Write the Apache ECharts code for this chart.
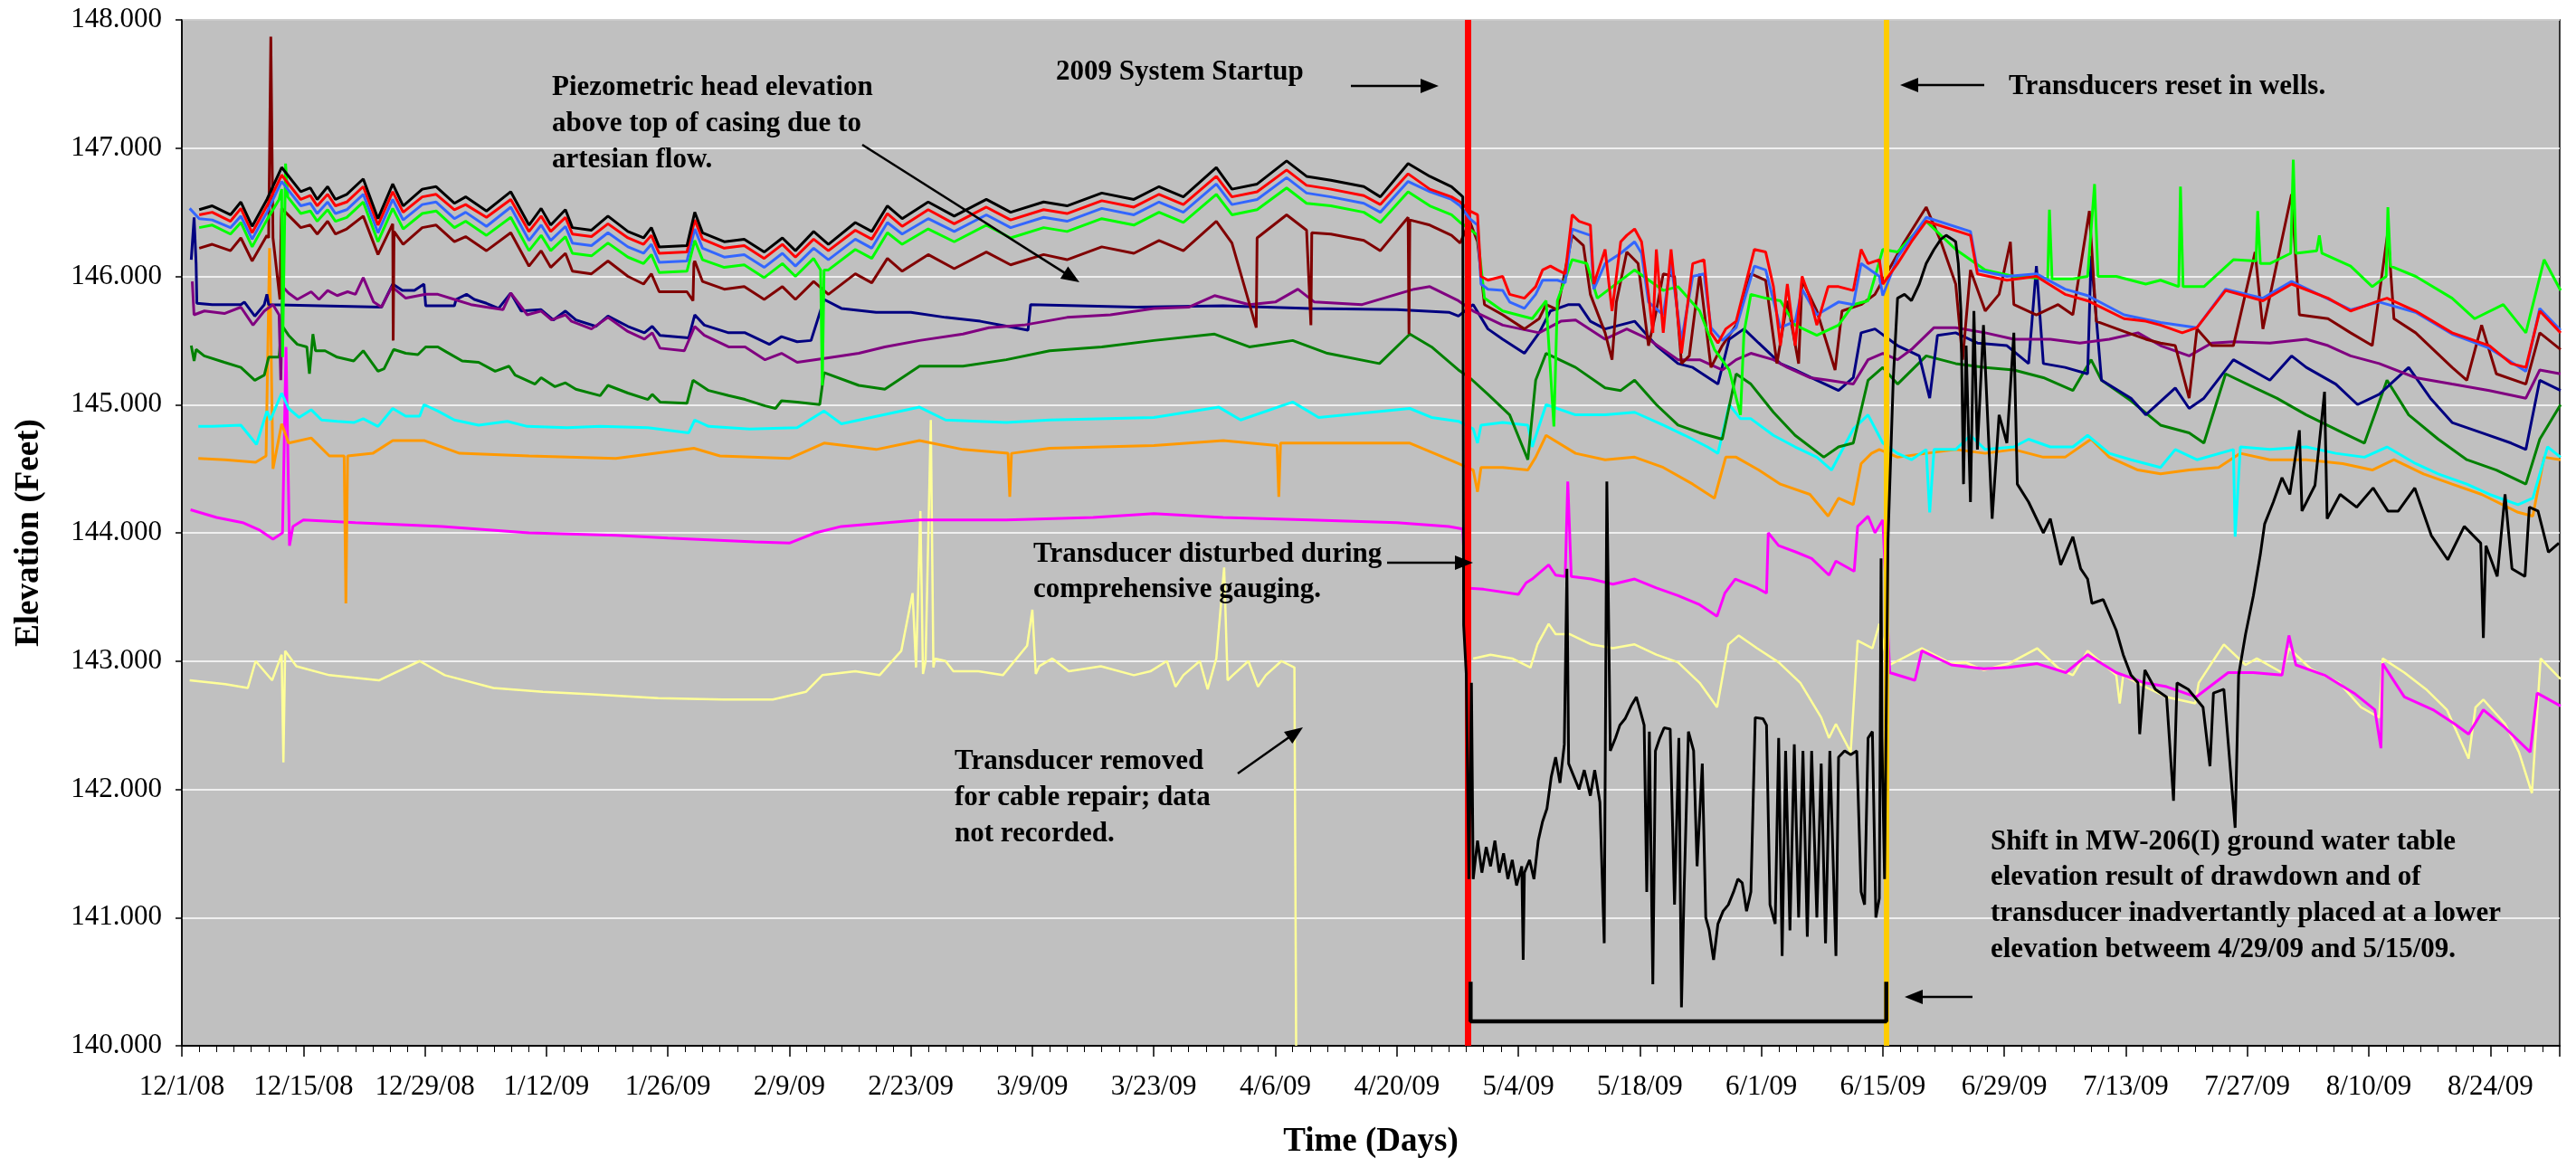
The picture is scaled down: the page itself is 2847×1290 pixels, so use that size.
<!DOCTYPE html>
<html><head><meta charset="utf-8">
<script src="https://cdn.jsdelivr.net/npm/echarts@6/dist/echarts.min.js"></script>
<style>html,body{margin:0;padding:0;background:#fff}#c{width:2847px;height:1290px}</style>
</head><body><div id="c"></div>
<script>
// ---------- DATA (x = days since 12/1/08, y = elevation in feet) ----------
const startupDay = 148.2;   // 2009 System Startup (4/28/09)
const resetDay = 196.4;     // Transducers reset in wells (6/15/09)
const yTicks = [140,141,142,143,144,145,146,147,148];

// shared day grid for the upper bundle before startup
const bundleDays = [2,3.5,5.6,6.8,8.1,9.8,11.5,13.7,14.8,15.6,
 16.8,17.7,19,20.9,22.6,24.3,25.5,27.7,29.3,31.4,
 32.7,35.1,37.9,40,41.4,42.5,44.2,45,47.2,49.1,
 51.4,53.2,54.1,55,58.2,59.1,60,62.5,64.8,67.1,
 69.2,70.7,72.8,74.5,77.6,79.5,81.3,83,86,89,
 92.7,95.5,99.3,102,106,109.7,112.6,115.4,119.2,121,
 123.9,127.3,129.6,132.4,136.2,138.1,141.3,143.8,146.3,147.3];

const blackPre = [146.52,146.55,146.48,146.58,146.39,146.60,146.85,146.66,146.69,146.60,
 146.70,146.60,146.64,146.76,146.45,146.72,146.55,146.68,146.70,146.57,
 146.62,146.51,146.66,146.40,146.53,146.40,146.52,146.38,146.36,146.47,
 146.35,146.30,146.38,146.23,146.24,146.50,146.34,146.27,146.29,146.19,
 146.30,146.20,146.35,146.25,146.42,146.35,146.55,146.45,146.58,146.47,
 146.60,146.50,146.58,146.55,146.65,146.60,146.70,146.62,146.85,146.68,
 146.72,146.90,146.78,146.75,146.70,146.62,146.88,146.78,146.70,146.64];
const redPre = [146.48,146.50,146.43,146.53,146.34,146.55,146.79,146.60,146.63,146.55,
 146.64,146.55,146.58,146.70,146.40,146.66,146.50,146.62,146.64,146.52,
 146.56,146.46,146.60,146.35,146.47,146.35,146.46,146.33,146.31,146.41,
 146.30,146.25,146.32,146.18,146.19,146.44,146.29,146.22,146.24,146.14,
 146.25,146.15,146.29,146.20,146.36,146.29,146.49,146.39,146.52,146.41,
 146.54,146.44,146.52,146.49,146.59,146.54,146.64,146.56,146.78,146.62,
 146.66,146.83,146.71,146.68,146.63,146.56,146.80,146.68,146.62,146.58];
const bluePre = [146.45,146.44,146.38,146.47,146.29,146.50,146.74,146.55,146.57,146.49,
 146.58,146.49,146.52,146.64,146.34,146.60,146.44,146.56,146.58,146.45,
 146.50,146.39,146.54,146.28,146.40,146.28,146.39,146.26,146.24,146.34,
 146.23,146.18,146.25,146.11,146.12,146.37,146.22,146.15,146.17,146.07,
 146.18,146.08,146.22,146.13,146.29,146.22,146.42,146.33,146.45,146.35,
 146.48,146.38,146.46,146.43,146.53,146.48,146.58,146.50,146.72,146.56,
 146.60,146.77,146.65,146.62,146.57,146.50,146.74,146.66,146.60,146.55];
const limePre = [146.38,146.40,146.33,146.42,146.23,146.44,146.68,146.49,146.51,146.43,
 146.52,146.43,146.46,146.58,146.27,146.53,146.37,146.49,146.51,146.38,
 146.43,146.32,146.46,146.20,146.32,146.20,146.31,146.18,146.16,146.26,
 146.15,146.10,146.17,146.03,146.04,146.28,146.13,146.07,146.09,145.99,
 146.10,146.00,146.14,146.05,146.21,146.14,146.34,146.25,146.37,146.27,
 146.40,146.30,146.38,146.35,146.45,146.40,146.50,146.42,146.64,146.48,
 146.52,146.69,146.57,146.55,146.50,146.42,146.66,146.55,146.48,146.42];
const maroonPre = [146.22,146.25,146.20,146.30,146.12,146.32,146.53,146.38,146.40,146.33,
 146.43,146.33,146.37,146.47,146.17,146.41,146.25,146.38,146.40,146.27,
 146.31,146.20,146.34,146.08,146.20,146.07,146.18,146.04,146.02,146.12,
 146.00,145.94,146.02,145.88,145.88,146.12,145.96,145.90,145.92,145.82,
 145.92,145.82,145.96,145.86,146.02,145.95,146.14,146.04,146.17,146.06,
 146.19,146.09,146.17,146.13,146.23,146.18,146.28,146.20,146.43,146.26,
 146.30,146.48,146.36,146.33,146.28,146.20,146.46,146.40,146.32,146.26];

const blueStart = [[0.9,146.53]];
const limeSpikes = [[11.2,146.6],[11.6,145.37],[11.95,146.88],[12.2,146.62],[73.6,146.05],[73.8,145.15],[74.0,146.05]];
const maroonSpikes = [[10.0,146.3],[10.25,147.87],[10.5,146.3],[11.0,146.0],[11.3,145.82],[11.45,146.45],[24.35,145.5],[24.45,146.35],
 [58.9,145.81],[59.0,146.1],[123.8,145.6],[123.95,146.3],[130.1,145.62],[130.2,146.34],[141.4,145.55],[141.5,146.44]];

const blackPost = [[147.6,146.62],[147.7,143.28],[148.0,142.9],[148.3,141.3],[148.6,142.83],[148.8,141.3],
 [149.3,141.6],[149.8,141.35],[150.3,141.55],[150.8,141.4],[151.3,141.6],[151.8,141.35],[152.3,141.5],[152.8,141.3],[153.3,141.45],
 [153.8,141.25],[154.4,141.4],[154.56,140.67],[154.7,141.35],[155.3,141.45],[155.8,141.3],[156.3,141.6],[156.8,141.75],[157.3,141.85],
 [157.8,142.1],[158.3,142.25],[158.8,142.05],[159.3,142.35],[159.6,143.72],[159.8,142.2],[160.4,142.1],[161.0,142.0],[161.6,142.15],
 [162.3,141.95],[162.8,142.15],[163.4,141.9],[163.9,140.8],[164.2,144.4],[164.6,142.3],[165.2,142.4],[165.7,142.5],[166.3,142.55],
 [167.0,142.65],[167.6,142.72],[168.1,142.6],[168.5,142.5],[168.8,141.2],[169.1,142.45],[169.5,140.48],[169.8,142.3],[170.3,142.4],
 [170.8,142.48],[171.5,142.47],[172.0,141.1],[172.5,142.4],[172.8,140.3],[173.1,141.2],[173.6,142.45],[174.2,142.3],[174.6,141.4],
 [175.2,142.2],[175.6,141.0],[176.0,140.9],[176.5,140.67],[177.0,140.95],[177.6,141.05],[178.2,141.1],[178.8,141.2],[179.3,141.3],
 [179.8,141.27],[180.3,141.05],[180.8,141.2],[181.3,142.56],[182.2,142.55],[182.6,142.5],[183.0,141.1],[183.6,140.95],[184.0,142.4],
 [184.4,140.7],[184.8,142.3],[185.3,140.9],[185.8,142.35],[186.3,141.0],[186.8,142.3],[187.3,140.85],[187.8,142.3],[188.4,141.0],
 [188.9,142.2],[189.4,140.8],[189.9,142.3],[190.6,140.7],[190.9,142.25],[191.6,142.3],[192.3,142.27],[193.0,142.3],[193.5,141.2],
 [193.9,141.1],[194.3,142.4],[194.8,142.45],[195.2,141.0],[195.6,141.15],[195.8,143.8],[195.9,142.4],[196.2,141.3],
 [196.6,143.95],[197.2,145.19],[197.7,145.83],[198.5,145.86],[199.3,145.81],[200.2,145.94],[201.0,146.10],[201.9,146.21],[202.7,146.29],
 [203.3,146.32],[204.0,146.29],[204.4,146.27],[204.7,146.1],[205.0,145.73],[205.3,144.38],[205.6,145.46],[206.1,144.24],[206.5,145.73],
 [206.9,144.65],[207.6,145.62],[208.6,144.11],[209.4,144.92],[210.3,144.70],[211.1,145.56],[211.5,144.38],[212.8,144.24],[214.5,144.0],
 [215.3,144.11],[216.5,143.75],[217.9,143.97],[218.8,143.72],[219.6,143.64],[220.1,143.45],[221.4,143.48],[222.9,143.24],[223.7,143.05],
 [224.6,142.89],[225.4,142.83],[225.6,142.43],[226.2,142.93],[227.4,142.78],[228.7,142.72],[229.5,141.91],[229.9,142.83],[231.2,142.78],
 [232.9,142.64],[233.7,142.18],[234.1,142.75],[235.3,142.78],[236.6,141.7],[237.0,142.89],[237.8,143.21],[238.7,143.51],[239.5,143.83],
 [240.0,144.07],[241.0,144.24],[242.0,144.43],[242.9,144.3],[244.0,144.8],[244.3,144.17],[245.8,144.37],[246.9,145.1],[247.2,144.11],
 [248.7,144.3],[250.6,144.2],[252.5,144.35],[254.2,144.17],[255.4,144.17],[257.3,144.35],[259.2,143.98],[261.1,143.79],[263.0,144.05],
 [264.9,143.92],[265.2,143.18],[265.5,143.9],[266.8,143.66],[267.7,144.3],[268.5,143.72],[270.0,143.66],[270.5,144.2],[271.5,144.17],
 [272.7,143.85],[273.9,143.92]];

const redPost = [[148.4,146.51],[149.3,146.48],[149.7,146.0],[150.5,145.97],[152.2,146.0],[153.0,145.86],[154.7,145.83],[156.0,145.92],
 [156.8,146.05],[157.7,146.08],[158.5,146.05],[159.4,146.02],[160.2,146.48],[161.0,146.43],[162.3,146.40],[162.7,145.94],[164.0,146.21],
 [164.8,145.73],[165.8,146.27],[166.5,146.32],[167.4,146.37],[168.2,146.27],[169.0,145.86],[169.5,145.56],[169.9,146.21],[170.7,145.56],
 [171.6,146.21],[172.8,145.40],[174.1,146.10],[175.4,146.13],[176.2,145.56],[177.0,145.48],[177.9,145.59],[179.1,145.65],[181.2,146.21],
 [182.5,146.19],[183.4,145.92],[184.2,145.46],[185.0,145.94],[185.9,145.46],[186.7,146.0],[187.6,145.83],[188.4,145.62],[189.7,145.92],
 [190.9,145.92],[192.6,145.89],[193.5,146.21],[194.3,146.10],[195.6,146.13],[196.0,145.94],
 [197.7,146.10],[199.3,146.27],[201.0,146.43],[206.1,146.32],[206.9,146.02],[210.3,145.97],[213.7,146.0],[217.0,145.86],[219.6,145.81],
 [223.8,145.67],[226.3,145.65],[228.0,145.62],[230.5,145.56],[232.2,145.6],[235.5,145.89],[239.8,145.81],[243.1,145.94],[247.3,145.83],
 [249.9,145.73],[253.2,145.81],[254.1,145.83],[257.4,145.73],[261.6,145.56],[265.9,145.46],[268.4,145.32],[270.1,145.29],[271.7,145.73],[274.1,145.56]];

const bluePost = [[148.4,146.45],[149.3,146.40],[149.7,145.94],[150.5,145.9],[152.2,145.89],[153.0,145.8],[154.7,145.75],[156.0,145.86],
 [156.8,145.97],[158.5,145.97],[159.4,145.95],[160.2,146.37],[161.0,146.35],[162.3,146.32],[162.7,145.9],[164.0,146.1],[165.8,146.18],
 [167.4,146.27],[168.2,146.18],[169.0,145.8],[170.7,145.7],[171.6,146.1],[172.8,145.5],[174.1,146.0],[175.4,146.02],[176.2,145.6],
 [177.5,145.5],[179.1,145.6],[181.2,146.08],[182.5,146.05],[184.2,145.6],[185.9,145.65],[186.7,145.9],[188.4,145.7],[190.9,145.8],
 [192.6,145.78],[193.5,146.1],[195.6,146.0],[196.0,145.85],
 [197.7,146.15],[199.3,146.3],[201.0,146.46],[206.1,146.35],[206.9,146.05],[210.3,146.0],[213.7,146.02],[217.0,145.9],[219.6,145.85],
 [223.8,145.7],[228.0,145.64],[232.2,145.6],[235.5,145.9],[239.8,145.83],[243.1,145.96],[249.9,145.74],[253.2,145.8],[257.4,145.72],
 [261.6,145.55],[265.9,145.44],[270.1,145.26],[271.7,145.75],[274.1,145.58]];

const limePost = [[148.4,146.37],[149.3,146.32],[150.1,145.83],[152.2,145.73],[155.6,145.67],[157.2,145.81],[158.1,144.83],[158.5,145.81],
 [160.2,146.13],[161.9,146.10],[163.1,145.83],[167.4,146.05],[170.7,145.89],[172.4,145.92],[174.9,145.73],[176.6,145.43],[178.3,145.27],
 [179.6,144.92],[180.0,145.56],[180.8,145.86],[182.5,145.83],[184.2,145.81],[185.9,145.62],[188.4,145.54],[190.9,145.62],[192.6,145.78],
 [194.3,145.81],[196.0,146.21],
 [197.7,146.19],[201.0,146.43],[204.4,146.21],[207.8,146.05],[211.1,146.0],[215.0,145.98],[215.2,146.52],[215.5,145.98],[217.9,145.98],
 [219.6,146.0],[220.4,146.72],[220.8,146.0],[222.9,146.0],[226.3,145.94],[228.0,145.97],[230.1,145.92],[230.3,146.7],[230.6,145.92],
 [233.0,145.92],[236.4,146.13],[239.0,146.12],[239.2,146.51],[239.5,146.1],[240.6,146.10],[243.0,146.18],[243.3,146.91],[243.6,146.18],
 [246.0,146.2],[246.3,146.32],[246.6,146.18],[249.9,146.08],[252.4,145.92],[254.0,146.0],[254.2,146.54],[254.5,146.08],[257.4,146.0],
 [261.6,145.83],[264.2,145.67],[267.5,145.78],[270.1,145.56],[272.2,146.13],[274.1,145.89]];

const maroonPost = [[148.4,146.43],[149.3,146.27],[150.1,145.78],[152.2,145.7],[154.7,145.59],[156.4,145.67],[157.2,145.78],[158.5,145.74],
 [160.2,146.32],[161.5,146.24],[162.3,145.86],[164.0,145.56],[164.8,145.35],[165.3,145.8],[166.5,146.19],[167.8,146.1],[169.0,145.46],
 [169.9,145.73],[170.7,146.02],[172.0,146.0],[172.8,145.32],[173.7,145.38],[174.9,146.02],[176.2,145.29],[177.5,145.46],[179.1,145.62],
 [180.8,146.02],[182.5,145.97],[183.8,145.32],[185.0,145.81],[186.3,145.32],[186.7,145.97],[188.4,145.73],[190.5,145.27],[191.3,145.73],
 [193.5,145.78],[195.1,145.86],
 [198.5,146.27],[201.0,146.54],[202.7,146.27],[204.4,145.94],[205.2,145.35],[206.1,146.05],[207.8,145.73],[209.4,145.86],[210.7,146.27],
 [211.1,145.78],[213.7,145.7],[216.2,145.78],[217.9,145.70],[219.8,146.51],[220.6,145.65],[223.8,145.57],[226.3,145.51],[228.0,145.48],
 [229.7,145.46],[231.3,145.05],[232.2,145.59],[233.9,145.46],[236.4,145.46],[238.9,146.19],[239.8,145.59],[243.1,146.64],[244.0,145.70],
 [247.3,145.67],[249.9,145.56],[252.4,145.46],[254.2,146.35],[254.9,145.67],[257.4,145.56],[261.6,145.29],[263.3,145.19],[265.0,145.62],
 [266.7,145.24],[270.1,145.16],[271.7,145.56],[274.1,145.43]];

const purpleData = [[1.2,145.96],[1.4,145.70],[2.6,145.73],[4.9,145.71],[6.8,145.76],[8.2,145.62],[9.5,145.73],[10.5,145.78],[11.2,145.70],
 [11.4,145.19],[11.6,145.92],[12.3,145.87],[13.3,145.82],[14.9,145.88],[15.8,145.82],[16.8,145.89],[17.9,145.85],[19.1,145.88],[20.0,145.86],
 [20.9,145.99],[22.1,145.80],[23.0,145.76],[24.2,145.92],[25.8,145.83],[28.1,145.86],[29.5,145.86],[31.4,145.82],[33.3,145.78],[35.1,145.76],
 [37.0,145.74],[37.9,145.87],[39.8,145.70],[41.4,145.73],[42.6,145.66],[44.2,145.70],[44.9,145.65],[47.2,145.59],[49.1,145.68],[51.4,145.57],
 [53.3,145.51],[54.2,145.56],[55.1,145.44],[57.9,145.42],[59.1,145.61],[60.2,145.54],[63.0,145.45],[64.9,145.45],[67.2,145.35],[69.1,145.40],
 [70.9,145.33],[74,145.36],[78,145.4],[81,145.45],[85,145.5],[90,145.55],[93,145.6],[97,145.62],[102,145.68],[107,145.7],[112,145.75],
 [116,145.76],[119,145.85],[123,145.78],[126,145.8],[128.6,145.9],[130.5,145.8],[136,145.78],[142,145.9],[143.8,145.92],[147.1,145.81],
 [148.8,145.73],[152.2,145.62],[156.4,145.56],[158.9,145.65],[160.6,145.66],[164.0,145.51],[166.5,145.59],[169.0,145.51],[172.4,145.35],
 [174.9,145.35],[177.5,145.27],[179.1,145.35],[180.8,145.40],[183.4,145.35],[185.0,145.29],[187.6,145.21],[189.7,145.19],[192.6,145.16],
 [194.3,145.35],[196.0,145.40],
 [197.7,145.35],[199.3,145.43],[201.9,145.60],[204.4,145.60],[207.8,145.56],[211.1,145.51],[215.3,145.51],[218.7,145.48],[222.1,145.51],
 [225.4,145.56],[228.0,145.46],[231.3,145.38],[233.9,145.48],[236.4,145.49],[240.6,145.48],[244.8,145.51],[247.3,145.46],[249.9,145.38],
 [253.2,145.32],[257.4,145.21],[261.6,145.16],[265.9,145.11],[270.1,145.05],[271.7,145.27],[274.1,145.24]];

const navyData = [[1.08,146.13],[1.41,146.46],[1.64,146.1],[1.73,145.79],[3.5,145.78],[6.8,145.78],[7.2,145.80],[8.4,145.69],[9.5,145.78],
 [9.8,145.86],[10.0,145.78],[23.0,145.76],[24.3,145.94],[25.4,145.89],[26.8,145.89],[27.9,145.94],[28.1,145.77],[31.4,145.77],[31.6,145.82],
 [32.8,145.86],[33.7,145.82],[35.1,145.79],[36.5,145.75],[37.9,145.87],[39.1,145.73],[41.4,145.74],[42.8,145.66],[44.2,145.73],[45.4,145.66],
 [47.7,145.61],[49.1,145.69],[51.4,145.61],[53.3,145.56],[54.2,145.61],[55.1,145.54],[58.4,145.52],[59.1,145.70],[60.2,145.62],[63.0,145.56],
 [64.9,145.56],[67.7,145.47],[69.1,145.53],[70.9,145.49],[72.5,145.5],[74,145.82],[76,145.75],[80,145.72],[84,145.72],[88,145.68],[92,145.65],
 [96,145.6],[97.5,145.58],[97.8,145.78],[110,145.76],[120,145.77],[130,145.75],[140,145.74],[146,145.72],[147.1,145.69],
 [148.8,145.78],[150.5,145.59],[152.2,145.51],[154.7,145.40],[156.4,145.56],[157.7,145.73],[159.8,145.78],[161.0,145.78],[162.3,145.65],
 [164.0,145.59],[167.4,145.65],[169.9,145.46],[172.4,145.32],[174.1,145.29],[177.0,145.16],[178.3,145.51],[180.0,145.59],[181.7,145.48],
 [184.2,145.32],[185.9,145.27],[188.4,145.19],[190.9,145.11],[192.6,145.21],[193.5,145.56],[195.1,145.59],
 [197.7,145.46],[200.2,145.38],[201.4,145.05],[202.3,145.54],[204.4,145.56],[206.9,145.48],[210.3,145.46],[212.8,145.32],[213.7,146.08],
 [214.5,145.32],[217.0,145.29],[219.6,145.24],[220.0,146.16],[221.2,145.19],[224.6,145.05],[226.3,144.92],[229.7,145.13],[231.3,144.97],
 [233.0,145.05],[236.4,145.35],[240.6,145.19],[243.1,145.38],[244.8,145.29],[248.2,145.16],[250.7,145.0],[253.2,145.08],[256.6,145.29],
 [259.1,145.05],[261.6,144.86],[265.0,144.78],[268.4,144.70],[270.1,144.65],[271.7,145.19],[274.1,145.11]];

const greenData = [[1.08,145.46],[1.41,145.34],[1.64,145.43],[2.57,145.38],[4.9,145.33],[6.8,145.29],[8.4,145.19],[9.5,145.23],[10.0,145.37],
 [11.2,145.37],[11.5,145.62],[12.3,145.54],[13.3,145.47],[14.4,145.45],[14.7,145.24],[15.1,145.55],[15.4,145.42],[16.5,145.42],[17.9,145.37],
 [19.8,145.34],[20.9,145.42],[22.6,145.26],[23.3,145.28],[24.4,145.43],[25.8,145.40],[27.2,145.39],[28.1,145.45],[29.5,145.45],[30.5,145.41],
 [32.3,145.34],[34.2,145.33],[36.1,145.26],[37.7,145.30],[38.4,145.23],[40.7,145.16],[41.4,145.21],[43.0,145.14],[44.2,145.17],[45.4,145.12],
 [48.2,145.07],[49.1,145.15],[51.4,145.09],[53.7,145.04],[54.2,145.08],[55.1,145.02],[58.2,145.01],[58.9,145.19],[60.7,145.11],[63.0,145.07],
 [64.9,145.04],[67.2,144.99],[68.4,144.97],[69.1,145.03],[70.9,145.02],[73.5,145.0],[74,145.25],[78,145.15],[81,145.12],[85,145.3],[90,145.3],
 [95,145.35],[100,145.42],[106,145.45],[112,145.5],[119,145.55],[123,145.45],[128,145.5],[132,145.4],[138,145.32],[141.5,145.55],[144,145.45],
 [147.1,145.27],[148.4,145.21],[150.5,145.08],[153.0,144.92],[155.1,144.57],[156.0,145.19],[157.2,145.40],[160.6,145.29],[164.0,145.13],
 [165.8,145.11],[167.4,145.19],[169.9,145.0],[172.4,144.84],[174.9,144.78],[177.5,144.73],[179.1,145.24],[180.8,145.16],[183.4,144.94],
 [185.9,144.76],[189.2,144.59],[190.9,144.67],[192.6,144.70],[194.3,145.19],[196.0,145.29],
 [197.7,145.16],[201.0,145.38],[204.4,145.32],[207.8,145.29],[211.1,145.27],[214.5,145.21],[217.9,145.11],[220.0,145.35],[221.2,145.19],
 [224.6,145.03],[228.0,144.84],[231.3,144.78],[233.0,144.70],[235.5,145.24],[238.9,145.13],[241.4,145.05],[244.8,144.92],[249.0,144.78],
 [251.5,144.70],[254.1,145.19],[256.6,144.92],[260.0,144.73],[263.3,144.57],[266.7,144.49],[270.1,144.38],[271.7,144.73],[274.1,145.0]];

const cyanData = [[1.9,144.83],[3.5,144.83],[6.8,144.84],[8.6,144.69],[9.8,144.95],[10.2,144.88],[11.5,145.09],[12.3,144.97],[13.5,144.9],
 [14.9,144.96],[16.1,144.88],[17.9,144.87],[19.8,144.86],[20.9,144.89],[22.6,144.83],[24.3,144.97],[25.8,144.91],[27.4,144.91],[27.9,145.0],
 [29.5,144.95],[31.4,144.88],[34.2,144.84],[37.5,144.87],[39.8,144.83],[44.4,144.82],[48.2,144.83],[53.7,144.82],[58.4,144.78],[59.1,144.88],
 [60.7,144.83],[65.4,144.81],[70.9,144.82],[74,144.95],[76,144.85],[85,144.98],[88,144.88],[95,144.86],[100,144.88],[112,144.9],[119.5,144.98],
 [122,144.88],[128,145.02],[131,144.9],[141.5,144.97],[144,144.9],[147.1,144.87],
 [148.8,144.81],[149.3,144.70],[149.7,144.84],[152.2,144.86],[155.1,144.84],[155.6,144.67],[157.2,145.0],[160.6,144.92],[164.0,144.92],
 [167.4,144.94],[170.7,144.84],[173.2,144.76],[175.8,144.67],[177.0,144.62],[178.3,145.0],[179.6,144.89],[180.8,144.89],[183.4,144.76],
 [185.9,144.67],[188.4,144.59],[190.1,144.49],[192.6,144.81],[194.3,144.92],[196.0,144.7],
 [197.7,144.62],[199.3,144.57],[201.0,144.65],[201.4,144.16],[201.9,144.65],[204.4,144.65],[206.1,144.76],[207.8,144.65],[211.1,144.67],
 [212.8,144.73],[215.3,144.67],[217.9,144.67],[219.6,144.76],[222.1,144.62],[224.6,144.57],[228.0,144.51],[229.7,144.65],[232.2,144.57],
 [236.4,144.65],[236.6,143.97],[237.2,144.67],[240.6,144.65],[244.8,144.67],[248.2,144.62],[251.5,144.59],[254.1,144.67],[257.4,144.54],
 [260.0,144.46],[263.3,144.38],[265.9,144.30],[269.2,144.22],[270.9,144.27],[272.6,144.67],[274.1,144.59]];

const orangeData = [[1.9,144.58],[5,144.57],[8.5,144.55],[9.7,144.6],[10.1,146.22],[10.5,144.5],[11.5,144.85],[12.3,144.7],[14.9,144.74],
 [17,144.6],[18.7,144.6],[18.9,143.45],[19.1,144.6],[22,144.62],[24.3,144.72],[27.9,144.72],[32,144.62],[40,144.6],[50,144.58],[59,144.66],
 [62,144.6],[70,144.58],[74,144.7],[80,144.65],[85,144.72],[90,144.65],[95.2,144.62],[95.4,144.28],[95.6,144.62],[100,144.66],[112,144.68],
 [120,144.72],[126.2,144.68],[126.4,144.28],[126.6,144.7],[130,144.7],[141.5,144.7],[147.1,144.54],
 [148.8,144.49],[149.3,144.32],[149.7,144.51],[152.2,144.51],[155.1,144.49],[156.0,144.59],[157.2,144.76],[160.6,144.62],[164.0,144.57],
 [167.4,144.59],[170.7,144.51],[174.1,144.38],[176.6,144.27],[177.9,144.59],[179.1,144.59],[181.7,144.49],[184.2,144.38],[187.6,144.30],
 [189.7,144.13],[190.9,144.27],[192.6,144.22],[193.5,144.54],[194.7,144.62],[195.6,144.65],
 [197.7,144.59],[201.0,144.62],[204.4,144.65],[207.8,144.62],[211.1,144.65],[214.5,144.59],[217.0,144.59],[220.0,144.73],[222.1,144.59],
 [225.4,144.49],[228.0,144.46],[231.3,144.49],[234.7,144.51],[237.2,144.62],[240.6,144.57],[244.8,144.57],[249.0,144.54],[252.4,144.49],
 [254.9,144.57],[258.3,144.46],[261.6,144.38],[265.0,144.30],[269.2,144.16],[270.9,144.13],[272.2,144.59],[274.1,144.57]];

const magentaData = [[1,144.18],[4,144.12],[7,144.08],[9,144.02],[10.5,143.95],[11.6,144.0],[12.0,145.45],[12.4,143.9],[12.8,144.05],[14,144.1],
 [20,144.08],[30,144.05],[40,144.0],[50,143.98],[56,143.96],[66,143.93],[70,143.92],[73,144.0],[76,144.05],[85,144.1],[95,144.1],[105,144.12],
 [112,144.15],[120,144.12],[130,144.1],[140,144.08],[146,144.05],[147.6,144.03],
 [147.9,143.57],[150.0,143.56],[154.0,143.52],[154.9,143.61],[155.6,143.64],[157.5,143.75],[158.3,143.67],[159.4,143.66],[159.7,144.4],
 [160.1,143.66],[162.4,143.64],[164.9,143.6],[167.4,143.64],[169.9,143.57],[172.4,143.51],[174.9,143.44],[176.9,143.35],[177.8,143.53],
 [179.0,143.64],[181.5,143.57],[182.6,143.53],[182.8,144.0],[184.0,143.9],[186.0,143.85],[187.8,143.8],[189.8,143.67],[190.6,143.78],
 [192.7,143.7],[193.1,144.05],[194.3,144.13],[195.1,144.0],[196.0,144.1],
 [196.8,142.91],[199.7,142.85],[200.5,143.08],[203.9,142.97],[207.6,142.94],[210.5,142.95],[213.8,142.98],[217.1,142.91],[219.6,143.05],
 [222.9,142.91],[226.2,142.83],[228.7,142.80],[232.1,142.72],[235.8,142.91],[238.7,142.91],[242.0,142.89],[242.8,143.2],[243.6,142.97],
 [246.9,142.89],[250.3,142.75],[252.7,142.62],[253.4,142.32],[253.6,142.98],[256.1,142.72],[259.4,142.62],[261.9,142.51],[263.5,142.43],
 [265.2,142.62],[267.7,142.48],[270.6,142.29],[271.4,142.75],[274.1,142.65]];

const yellowPre = [[0.9,142.85],[5,142.82],[7.6,142.79],[8.5,143.0],[10.4,142.85],[11.5,143.05],[11.7,142.21],[11.9,143.08],[13.2,142.96],
 [17.0,142.89],[22.7,142.85],[27.4,143.0],[30.3,142.89],[35.9,142.79],[41.6,142.76],[47.3,142.74],[54.9,142.71],[62.4,142.70],[68.1,142.70],
 [71.9,142.76],[73.8,142.89],[77.6,142.92],[80.4,142.89],[82.9,143.08],[84.2,143.53],[84.6,142.95],[85.1,144.17],[85.4,142.9],[85.7,143.0],
 [86.3,144.88],[86.6,142.95],[86.8,143.02],[88.0,143.0],[88.9,142.92],[91.8,142.92],[94.6,142.89],[97.4,143.12],[98.0,143.4],[98.4,142.9],
 [98.8,142.96],[100.3,143.02],[102.2,142.92],[105.9,142.96],[109.7,142.89],[111.6,142.92],[113.5,143.0],[114.5,142.8],[115.4,142.89],
 [117.3,143.0],[118.2,142.78],[119.2,143.02],[120.1,143.73],[120.5,142.85],[121.1,142.89],[122.9,143.0],[124.0,142.8],[124.9,142.89],
 [126.7,143.0],[128.2,142.95],[128.4,140.0]];
const yellowPost = [[148.8,143.02],[150.8,143.05],[153.3,143.02],[155.4,142.95],[156.2,143.13],[157.5,143.29],[158.3,143.21],[159.9,143.21],
 [162.4,143.13],[164.9,143.10],[167.4,143.13],[169.9,143.05],[172.4,142.99],[174.9,142.83],[176.9,142.64],[178.2,143.13],[179.4,143.2],
 [181.5,143.10],[184.0,142.99],[186.5,142.83],[188.9,142.56],[189.8,142.40],[190.6,142.51],[192.3,142.29],[193.1,143.16],[194.8,143.10],
 [195.6,143.29],[196.4,143.02],
 [196.8,142.97],[200.5,143.10],[203.9,142.98],[205.5,142.99],[207.6,142.93],[210.5,142.98],[213.8,143.10],[216.3,142.94],[217.9,142.89],
 [219.6,143.08],[222.9,142.89],[223.3,142.67],[223.7,142.89],[226.2,142.80],[228.7,142.72],[232.0,142.67],[232.4,142.83],[235.3,143.13],
 [237.8,142.97],[239.1,143.02],[242.0,142.91],[242.8,143.10],[245.3,142.94],[248.6,142.83],[251.1,142.64],[253.2,142.56],[253.6,143.02],
 [256.1,142.91],[258.6,142.78],[261.0,142.62],[263.5,142.24],[264.3,142.64],[265.2,142.70],[267.7,142.51],[269.3,142.29],[270.8,141.97],
 [271.8,143.02],[274.1,142.86]];

const bracketLine = [[148.5,140.5],[148.5,140.19],[196.4,140.19],[196.4,140.5]];

// ---------- BUILD ----------
const zip = (xs, ys) => xs.map((x, i) => [x, ys[i]]);
const merge = (...parts) => [].concat(...parts).sort((a, b) => a[0] - b[0]);
const BASE = Date.UTC(2008, 11, 1);
function fmtDay(v) {
  const d = new Date(BASE + Math.round(v) * 86400000);
  return (d.getUTCMonth() + 1) + '/' + d.getUTCDate() + '/' + String(d.getUTCFullYear()).slice(2);
}
const FONT = '"Liberation Serif", "Times New Roman", serif';
function line(name, color, data, width, z) {
  return { name, type: 'line', data, symbol: 'none', showSymbol: false, silent: true, animation: false,
    lineStyle: { color, width }, itemStyle: { color }, z: z || 2 };
}
function txt(x, y, s) {
  return { type: 'text', x, y, z: 100, silent: true,
    style: { text: s, fill: '#000', font: 'bold 31px ' + FONT, textAlign: 'left', textVerticalAlign: 'middle', align: 'left', verticalAlign: 'middle' } };
}
function arrow(x1, y1, x2, y2) {
  const a = Math.atan2(y2 - y1, x2 - x1), L = 20, W = 8;
  const bx = x2 - L * Math.cos(a), by = y2 - L * Math.sin(a);
  return [
    { type: 'line', z: 100, silent: true, shape: { x1, y1, x2: bx + 2 * Math.cos(a), y2: by + 2 * Math.sin(a) }, style: { stroke: '#000', lineWidth: 2.5 } },
    { type: 'polygon', z: 100, silent: true, shape: { points: [[x2, y2], [bx + W * Math.sin(a), by - W * Math.cos(a)], [bx - W * Math.sin(a), by + W * Math.cos(a)]] }, style: { fill: '#000' } }
  ];
}

const chart = echarts.init(document.getElementById('c'), null, { renderer: 'canvas' });
chart.setOption({
  animation: false,
  backgroundColor: '#ffffff',
  grid: { left: 201, right: 18, top: 22, bottom: 134, show: true, backgroundColor: '#c0c0c0', borderColor: '#000', borderWidth: 1.5 },
  xAxis: {
    type: 'value', min: 0, max: 274, interval: 14,
    name: 'Time (Days)', nameLocation: 'middle', nameGap: 88,
    nameTextStyle: { fontFamily: FONT, fontWeight: 'bold', fontSize: 37, color: '#000' },
    axisLine: { show: true, lineStyle: { color: '#000', width: 2 } },
    axisTick: { show: true, length: 12, lineStyle: { color: '#000', width: 1.5 } },
    minorTick: { show: true, splitNumber: 7, length: 7, lineStyle: { color: '#000', width: 1 } },
    splitLine: { show: false },
    axisLabel: { fontFamily: FONT, fontSize: 31, color: '#000', margin: 30, showMaxLabel: false, formatter: fmtDay }
  },
  yAxis: {
    type: 'value', min: yTicks[0], max: yTicks[yTicks.length - 1], interval: 1,
    name: 'Elevation (Feet)', nameLocation: 'middle', nameGap: 150, nameRotate: 90,
    nameTextStyle: { fontFamily: FONT, fontWeight: 'bold', fontSize: 37, color: '#000' },
    axisLine: { show: true, lineStyle: { color: '#000', width: 1.5 } },
    axisTick: { show: true, length: 7, lineStyle: { color: '#000', width: 1.5 } },
    splitLine: { show: true, lineStyle: { color: '#ffffff', width: 1.5 } },
    axisLabel: { fontFamily: FONT, fontSize: 31, color: '#000', margin: 22, formatter: v => v.toFixed(3) }
  },
  series: [
    line('yellowPre', '#ffff99', yellowPre, 2.5, 2),
    line('yellowPost', '#ffff99', yellowPost, 2.5, 2),
    line('magenta', '#ff00ff', magentaData, 3, 3),
    line('orange', '#ff9900', orangeData, 3, 3),
    line('cyan', '#00ffff', cyanData, 3, 3),
    line('darkgreen', '#008000', greenData, 3, 3),
    line('navy', '#000080', navyData, 3, 4),
    line('purple', '#800080', purpleData, 3, 4),
    line('maroon', '#800000', merge(zip(bundleDays, maroonPre), maroonSpikes, maroonPost), 3, 4),
    line('lime', '#00ff00', merge(zip(bundleDays, limePre), limeSpikes, limePost), 3, 4),
    line('blue', '#3366ff', merge(blueStart, zip(bundleDays, bluePre), bluePost), 3, 5),
    line('red', '#ff0000', merge(zip(bundleDays, redPre), redPost), 3, 5),
    line('black', '#000000', merge(zip(bundleDays, blackPre), blackPost), 3, 6),
    Object.assign(line('bracket', '#000000', bracketLine, 4.5, 8), {
      markLine: { silent: true, symbol: ['none', 'none'], label: { show: false }, animation: false,
        data: [
          { xAxis: startupDay, lineStyle: { color: '#ff0000', width: 7, type: 'solid' } },
          { xAxis: resetDay, lineStyle: { color: '#ffcc00', width: 6, type: 'solid' } }
        ] }
    })
  ],
  graphic: [
    txt(610, 97, 'Piezometric head elevation'),
    txt(610, 137, 'above top of casing due to'),
    txt(610, 177, 'artesian flow.'),
    ...arrow(953, 160, 1193, 312),
    txt(1167, 80, '2009 System Startup'),
    ...arrow(1493, 95, 1590, 95),
    txt(2220, 96, 'Transducers reset in wells.'),
    ...arrow(2193, 94, 2100, 94),
    txt(1142, 613, 'Transducer disturbed during'),
    txt(1142, 652, 'comprehensive gauging.'),
    ...arrow(1533, 622, 1628, 622),
    txt(1055, 842, 'Transducer removed'),
    txt(1055, 882, 'for cable repair; data'),
    txt(1055, 922, 'not recorded.'),
    ...arrow(1368, 855, 1440, 804),
    txt(2200, 931, 'Shift in MW-206(I) ground water table'),
    txt(2200, 970, 'elevation result of drawdown and of'),
    txt(2200, 1010, 'transducer inadvertantly placed at a lower'),
    txt(2200, 1050, 'elevation betweem 4/29/09 and 5/15/09.'),
    ...arrow(2180, 1102, 2105, 1102)
  ]
});
</script></body></html>
